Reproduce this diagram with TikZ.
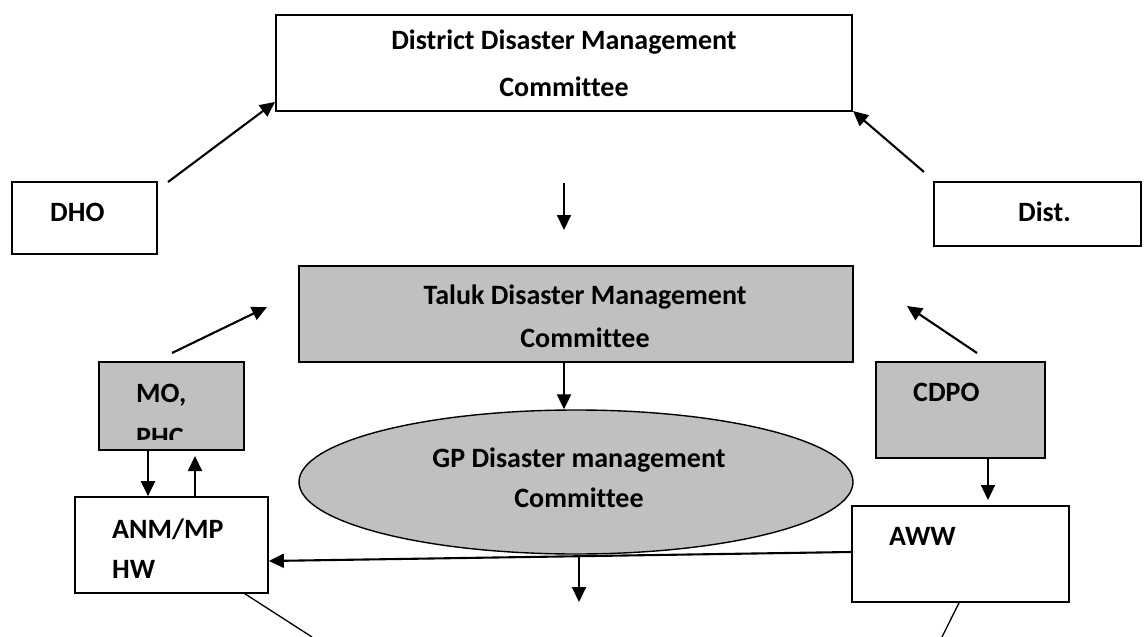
\documentclass[tikz,border=0pt]{standalone}
\usepackage{fontspec}
\setmainfont{Carlito}[Ligatures=NoCommon]
\usetikzlibrary{arrows.meta,shapes.geometric}
\definecolor{boxgray}{HTML}{C0C0C0}

\begin{document}
\begin{tikzpicture}[x=1pt,y=-1pt,
  box/.style={draw, line width=1.7pt, inner sep=0pt, rectangle},
  grayfill/.style={fill=boxgray},
  lbl/.style={inner sep=0pt, font=\fontsize{28}{33}\selectfont\bfseries},
  arr/.style={line width=2.1pt, -{Triangle[length=15pt,width=14pt]}},
  thinline/.style={line width=1.3pt}]
\useasboundingbox (0,0) rectangle (1144,637);

% ---- boxes ----
\node[box, minimum width=576pt, minimum height=96pt] (ddmc) at (564,63) {};
\node[box, minimum width=145pt, minimum height=72pt] (dho) at (84.5,218) {};
\node[box, minimum width=207pt, minimum height=64pt] (dist) at (1037.5,214) {};
\node[box, grayfill, minimum width=554pt, minimum height=96pt] (tdmc) at (576,314) {};
\node[box, grayfill, minimum width=145pt, minimum height=88pt] (mo) at (171.5,406) {};
\node[box, grayfill, minimum width=169pt, minimum height=96pt] (cdpo) at (960.5,410) {};
\node[draw, line width=1.4pt, ellipse, grayfill, inner sep=0pt,
      minimum width=554pt, minimum height=144pt] (gp) at (576,482) {};
\node[box, minimum width=193pt, minimum height=96pt] (anm) at (171.5,545) {};
\node[box, minimum width=217pt, minimum height=96pt] (aww) at (960.5,554) {};

% ---- labels ----
\node[lbl, anchor=base] (ddmc-a) at (564,49) {District Disaster Management};
\node[lbl, anchor=base] (ddmc-b) at (564,96) {Committee};
\node[lbl, anchor=base west] (dho-t) at (50,221) {DHO};
\node[lbl, anchor=base west] (dist-t) at (1018,221) {Dist.};
\node[lbl, anchor=base] (tdmc-a) at (585,304) {Taluk Disaster Management};
\node[lbl, anchor=base] (tdmc-b) at (585,347) {Committee};
\node[lbl, anchor=base] (gp-a) at (579,467) {GP Disaster management};
\node[lbl, anchor=base] (gp-b) at (579,507) {Committee};
\node[lbl, anchor=base west] (mo-a) at (136,402) {MO,};
\begin{scope}
  \clip (99,362) rectangle (244,439);
  \node[lbl, anchor=base west] (mo-b) at (136,446) {PHC};
\end{scope}
\node[lbl, anchor=base west] (cdpo-t) at (913,401) {CDPO};
\node[lbl, anchor=base west] (anm-a) at (112,538) {ANM/MP};
\node[lbl, anchor=base west] (anm-b) at (112,578) {HW};
\node[lbl, anchor=base west] (aww-t) at (889,545) {AWW};

% ---- free arrow ends ----
\coordinate (dho-up) at (168,182);
\coordinate (ddmc-in-l) at (275,102);
\coordinate (dist-up) at (924,172);
\coordinate (ddmc-in-r) at (853,111);
\coordinate (mid-top) at (564,183);
\coordinate (mid-bot) at (564,230);
\coordinate (mo-up) at (172,353);
\coordinate (tdmc-in-l) at (267,307);
\coordinate (cdpo-up) at (977,353);
\coordinate (tdmc-in-r) at (907,306);
\coordinate (gp-col) at (564,0);
\coordinate (down-col) at (579,0);
\coordinate (gp-out) at (579,602);
\coordinate (mo-dn) at (148,0);
\coordinate (mo-upcol) at (195,0);
\coordinate (mo-tip) at (195,456);
\coordinate (cdpo-col) at (988,0);
\coordinate (aww-tip) at (988,500);
\coordinate (h-start) at (0,552);
\coordinate (h-end) at (0,561);
\coordinate (anm-foot) at (245,0);
\coordinate (anm-tail) at (312,637);
\coordinate (aww-foot) at (959,0);
\coordinate (aww-tail) at (942,637);

% ---- connectors ----
\draw[arr] (dho-up) -- (ddmc-in-l);
\draw[arr] (dist-up) -- (ddmc-in-r);
\draw[arr] (mid-top) -- (mid-bot);
\draw[arr] (mo-up) -- (tdmc-in-l);
\draw[arr] (cdpo-up) -- (tdmc-in-r);
\draw[arr] (tdmc.south -| gp-col) -- (gp.north -| gp-col);
\draw[arr] (gp.south -| down-col) -- (gp-out);
\draw[arr] (mo.south -| mo-dn) -- (anm.north -| mo-dn);
\draw[arr] (anm.north -| mo-upcol) -- (mo-tip);
\draw[arr] (cdpo.south -| cdpo-col) -- (aww-tip);
\draw[arr] (aww.west |- h-start) -- (anm.east |- h-end);
\draw[thinline] (anm.south -| anm-foot) -- (anm-tail);
\draw[thinline] (aww.south -| aww-foot) -- (aww-tail);
\end{tikzpicture}
\end{document}
